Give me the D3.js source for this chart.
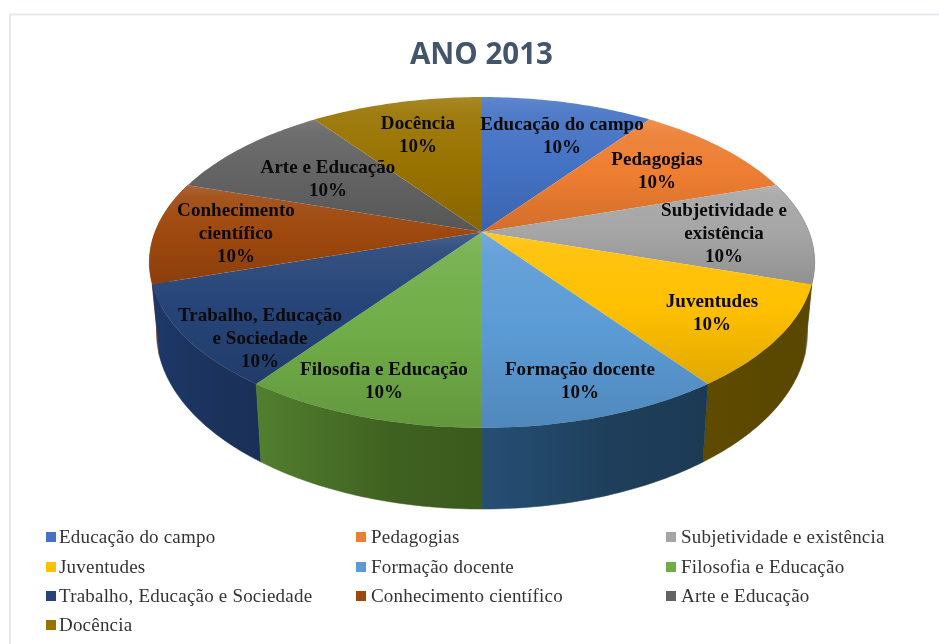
<!DOCTYPE html>
<html><head><meta charset="utf-8">
<style>html,body{margin:0;padding:0;background:#fff;overflow:hidden}svg{display:block;filter:blur(.5px)}</style>
<script src="https://cdnjs.cloudflare.com/ajax/libs/d3/7.8.5/d3.min.js"></script>
</head><body><svg id="c" width="939" height="644"></svg>
<script>
const title = "ANO 2013";
const categories = ["Educação do campo","Pedagogias","Subjetividade e existência","Juventudes","Formação docente","Filosofia e Educação","Trabalho, Educação e Sociedade","Conhecimento científico","Arte e Educação","Docência"];
const values = [10,10,10,10,10,10,10,10,10,10];
const colors = ["#4472C4","#ED7D31","#A5A5A5","#FFC000","#5B9BD5","#70AD47","#264478","#9E480E","#636363","#997300"];
const wallLeft  = [null,null,"#7c7c7c","#5f4b00","#264f74","#527f2f","#1d3868","#9e480e",null,null];
const wallRight = [null,null,"#6a6a6a","#5a4700","#1c3a54","#3a5a1c","#1a3058","#8a3f0c",null,null];
const labelLines = [["Educação do campo"],["Pedagogias"],["Subjetividade e","existência"],["Juventudes"],["Formação docente"],["Filosofia e Educação"],["Trabalho, Educação","e Sociedade"],["Conhecimento","científico"],["Arte e Educação"],["Docência"]];
// label placement: centre x and centre y of the first line
const labelX = [562,657,724,712,580,384,260,236,328,418];
const labelY = [124,159,210,301,369,369,315,210,167,123];
const legendCols = [46,356,666], legendRows = [537,567,596,625];

const svg = d3.select("#c");
const defs = svg.append("defs");

// chart frame
svg.append("path").attr("d","M10 644V14.5H939").attr("fill","none").attr("stroke","#e5e9ee").attr("stroke-width",2);

// perspective projection of the unit disc
const persp = 0.184;
const top3d = {cx:482, y0:232, a:327, b:159.8};
const bot3d = {cx:482, y0:299.5, a:320, b:171};
const proj = (g,th)=>{const d=1+persp*Math.cos(th);return [g.cx+g.a*Math.sin(th)/d, g.y0-g.b*Math.cos(th)/d];};

const pie = d3.pie().value(d=>d).sort(null)(values);
const line = d3.line();
const sample = (s,e)=>d3.range(0,41).map(i=>s+(e-s)*i/40);

function grad(id,stops,horizontal){
  const g = defs.append("linearGradient").attr("id",id).attr("x1",0).attr("y1",0).attr("x2",horizontal?1:0).attr("y2",horizontal?0:1);
  stops.forEach(([o,c])=>g.append("stop").attr("offset",o).attr("stop-color",c));
}
const mix=(c,t,k)=>d3.interpolateRgb(c,t)(k);

// walls
[7,2,3,6,4,5].forEach(i=>{
  const a=pie[i];
  grad("w"+i,[[0,wallLeft[i]],[.6,d3.interpolateRgb(wallLeft[i],wallRight[i])(.8)],[1,wallRight[i]]],true);
  const th=sample(a.startAngle,a.endAngle);
  const pts=th.map(t=>proj(top3d,t)).concat(th.slice().reverse().map(t=>proj(bot3d,t)));
  svg.append("path").attr("d",line(pts)+"Z").attr("fill",`url(#w${i})`).attr("stroke",`url(#w${i})`).attr("stroke-width",.5);
});

// top faces
pie.forEach((a,i)=>{
  grad("t"+i,[[0,mix(colors[i],"#fff",.15)],[.12,mix(colors[i],"#fff",.07)],[.5,colors[i]],[1,mix(colors[i],"#000",.12)]],false);
  const pts=[[top3d.cx,top3d.y0]].concat(sample(a.startAngle,a.endAngle).map(t=>proj(top3d,t)));
  svg.append("path").attr("d",line(pts)+"Z").attr("fill",`url(#t${i})`);
});

// title
svg.append("text").attr("x",481.5).attr("y",64).attr("text-anchor","middle")
  .attr("font-family","'Open Sans'").attr("font-weight",700).attr("font-size",29.5).attr("fill","#44546A").text(title);

// data labels
labelLines.forEach((ls,i)=>{
  const t=svg.append("text").attr("text-anchor","middle").attr("font-family","'Liberation Serif'")
    .attr("font-weight",700).attr("font-size",19).attr("letter-spacing",.05).attr("fill","#0a0a0a");
  ls.concat([d3.format(".0%")(values[i]/d3.sum(values))]).forEach((s,j)=>{
    t.append("tspan").attr("x",labelX[i]).attr("y",labelY[i]+j*23+6).text(s);
  });
});

// legend
categories.forEach((c,i)=>{
  const col=i%3,row=Math.floor(i/3),x=legendCols[col],y=legendRows[row];
  svg.append("rect").attr("x",x).attr("y",y-5).attr("width",10).attr("height",10).attr("fill",colors[i]);
  svg.append("text").attr("x",x+13+(col?2:0)).attr("y",y+6).attr("font-family","'Liberation Serif'")
    .attr("font-size",19).attr("letter-spacing",.2).attr("fill","#333").text(c);
});
</script></body></html>
